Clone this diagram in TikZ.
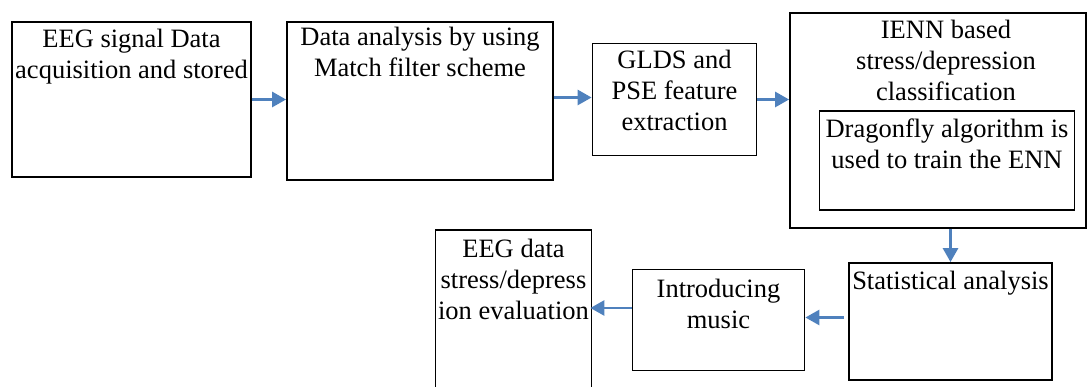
\documentclass[tikz,border=0pt]{standalone}
\usepackage{fontspec}
\setmainfont{Liberation Serif}
\usetikzlibrary{arrows.meta,calc}
\definecolor{arrowblue}{HTML}{4F81BD}
\tikzset{
  box/.style={draw=black, line width=1.8pt, fill=none, inner sep=0pt},
  txt/.style={anchor=north, align=center, inner sep=0pt, font=\fontsize{26.5pt}{31pt}\selectfont},
  flow/.style={draw=arrowblue, line width=2.8pt, -{Triangle[length=14pt,width=15pt]}}
}
\begin{document}
\begin{tikzpicture}[x=1pt,y=1pt]
\useasboundingbox (0,0) rectangle (1088,-387);
\clip (0,0) rectangle (1088,-387);
% boxes
\node[box, minimum width=239pt, minimum height=155pt] (b1) at (131.5,-99.5) {};
\node[box, minimum width=266pt, minimum height=158pt] (b2) at (420,-101) {};
\node[box, minimum width=164pt, minimum height=112pt] (b3) at (674.5,-99.5) {};
\node[box, minimum width=296pt, minimum height=215pt] (b4) at (938,-120.5) {};
\node[box, minimum width=255pt, minimum height=99pt] (b4in) at (947,-160.5) {};
\node[box, minimum width=203pt, minimum height=117pt] (b5) at (950.5,-321.5) {};
\node[box, minimum width=172pt, minimum height=101pt] (b6) at (718.5,-320) {};
\node[box, minimum width=156pt, minimum height=180pt] (b7) at (513.5,-320) {};
% texts
\node[txt] (t1) at (131.5,-29) {EEG signal Data\\acquisition and stored};
\node[txt] (t2) at (420,-27) {Data analysis by using\\Match filter scheme};
\node[txt] (t3) at (674.5,-50) {GLDS and\\PSE feature\\extraction};
\node[txt] (t4) at (946,-20) {IENN based\\stress/depression\\classification};
\node[txt] (t4in) at (947,-119) {Dragonfly algorithm is\\used to train the ENN};
\node[txt] (t5) at (950.5,-271) {Statistical analysis};
\node[txt] (t6) at (718.5,-279) {Introducing\\music};
\node[txt] (t7) at (513.5,-239) {EEG data\\stress/depress\\ion evaluation};
% connectors
\draw[flow] (b1.east) -- (b1.east -| b2.west);
\draw[flow] ([yshift=2pt]b3.west -| b2.east) -- ([yshift=2pt]b3.west);
\draw[flow] (b3.east) -- (b3.east -| b4.west);
\draw[flow] (b5.north |- b4.south) -- (b5.north);
\draw[flow] ([xshift=-4pt,yshift=4pt]b5.west) -- ([yshift=4pt]b5.west -| b6.east);
\draw[flow] ([yshift=12pt]b6.west) -- ([yshift=12pt,xshift=-2pt]b6.west -| b7.east);
\end{tikzpicture}
\end{document}
